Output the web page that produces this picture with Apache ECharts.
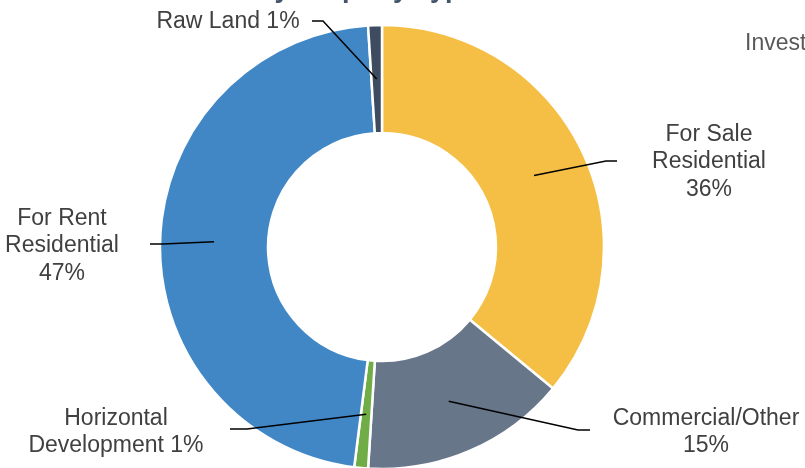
<!DOCTYPE html>
<html>
<head>
<meta charset="utf-8">
<script src="https://cdn.jsdelivr.net/npm/echarts@6/dist/echarts.min.js"></script>
<style>
  html, body { margin: 0; padding: 0; background: #fff; }
  #chart { width: 805px; height: 468px; }
</style>
</head>
<body>
<div id="chart"></div>
<script>
// slices, clockwise from 12 o'clock
var categories = ['For Sale\nResidential', 'Commercial/Other', 'Horizontal\nDevelopment', 'For Rent\nResidential', 'Raw Land'];
var shares = [36, 15, 1, 47, 1];
// text between name and percent
var separators = ['\n', '\n', ' ', '\n', ' '];
var colors = ['#F5BF45', '#68768A', '#70AD47', '#4187C6', '#3D4C60'];

var chart = echarts.init(document.getElementById('chart'));

var pieCenter = [382, 247];

// where each label sits, and the elbow + end of its leader line
var labelPlaces = [
    { x: 709, y: 162, elbow: [606, 161], end: [617, 161] },
    { x: 706, y: 432, elbow: [578, 430], end: [590, 430] },
    { x: 116, y: 432, elbow: [247, 429], end: [230, 429] },
    { x: 62, y: 246, elbow: [163, 244], end: [150, 244] },
    { x: 228, y: 22, elbow: [323, 21], end: [312, 21] }
];

var pieData = categories.map(function (c, i) {
    return { name: c, value: shares[i], itemStyle: { color: colors[i] } };
});

var option = {
    animation: false,
    backgroundColor: '#fff',
    title: [
        {
            text: 'Investments by Property Type',
            left: 93,
            top: -24,
            padding: 0,
            textStyle: { fontFamily: 'Liberation Sans', fontWeight: 'bold', fontSize: 27, color: '#44546A' }
        },
        {
            text: 'Investments',
            left: 745,
            top: 32,
            padding: 0,
            textStyle: { fontFamily: 'Liberation Sans', fontWeight: 'normal', fontSize: 23, color: '#595959' }
        }
    ],
    series: [
        {
            // the donut itself
            type: 'pie',
            z: 2,
            center: pieCenter,
            radius: [114, 222],
            startAngle: 90,
            clockwise: true,
            silent: true,
            label: { show: false },
            labelLine: { show: false },
            itemStyle: { borderColor: '#fff', borderWidth: 2.5 },
            data: pieData
        },
        {
            // invisible ring at mid radius, only used to carry the labels
            type: 'pie',
            z: 5,
            center: pieCenter,
            radius: [0, 168],
            startAngle: 90,
            clockwise: true,
            silent: true,
            itemStyle: { color: 'rgba(0,0,0,0)' },
            label: {
                show: true,
                position: 'outside',
                formatter: function (p) {
                    return p.name + separators[p.dataIndex] + p.value + '%';
                },
                fontFamily: 'Liberation Sans',
                fontSize: 23,
                lineHeight: 27.5,
                color: '#404040',
                align: 'center'
            },
            labelLine: {
                show: true,
                length: 20,
                length2: 10,
                lineStyle: { color: '#000', width: 1.5 }
            },
            labelLayout: function (params) {
                var pl = labelPlaces[params.dataIndex];
                var pts = params.labelLinePoints;
                var start = pts ? pts[0] : pl.elbow;
                return {
                    x: pl.x,
                    y: pl.y,
                    align: 'center',
                    verticalAlign: 'middle',
                    labelLinePoints: [start, pl.elbow, pl.end]
                };
            },
            data: categories.map(function (c, i) {
                return { name: c, value: shares[i] };
            })
        }
    ]
};

chart.setOption(option);
</script>
</body>
</html>
